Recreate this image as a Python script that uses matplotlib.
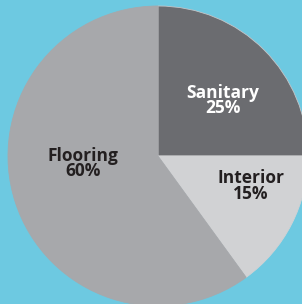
import matplotlib

matplotlib.use("Agg")
import matplotlib.pyplot as plt

categories = ["Sanitary", "Interior", "Flooring"]
shares = [25, 15, 60]
colors = ["#6b6c70", "#d1d2d4", "#a7a8ab"]
text_colors = ["white", "#231f20", "#231f20"]
# label centres in pie units (radius = 1)
label_xy = [(0.43, 0.37), (0.62, -0.20), (-0.50, -0.05)]

BG = "#6dc9e1"

fig = plt.figure(figsize=(3.02, 3.04), dpi=100, facecolor=BG)
ax = fig.add_axes([0, 0, 1, 1])
ax.set_facecolor(BG)

wedges, _ = ax.pie(
    shares,
    colors=colors,
    startangle=90,
    counterclock=False,
    radius=1.0,
    wedgeprops={"linewidth": 0.6},
)
for w in wedges:
    w.set_edgecolor(w.get_facecolor())
wedges[0].set_edgecolor("#c4c5c8")

for name, share, (x, y), tc in zip(categories, shares, label_xy, text_colors):
    ax.text(
        x,
        y,
        f"{name}\n{share}%",
        ha="center",
        va="center",
        color=tc,
        fontsize=12.5,
        fontweight="bold",
        family="Open Sans",
        linespacing=0.85,
    )

ax.set_xlim(-158 / 150, 144 / 150)
ax.set_ylim(-148 / 150, 156 / 150)
ax.set_aspect("auto")
ax.axis("off")

fig.savefig("out.png", dpi=100, facecolor=BG)
